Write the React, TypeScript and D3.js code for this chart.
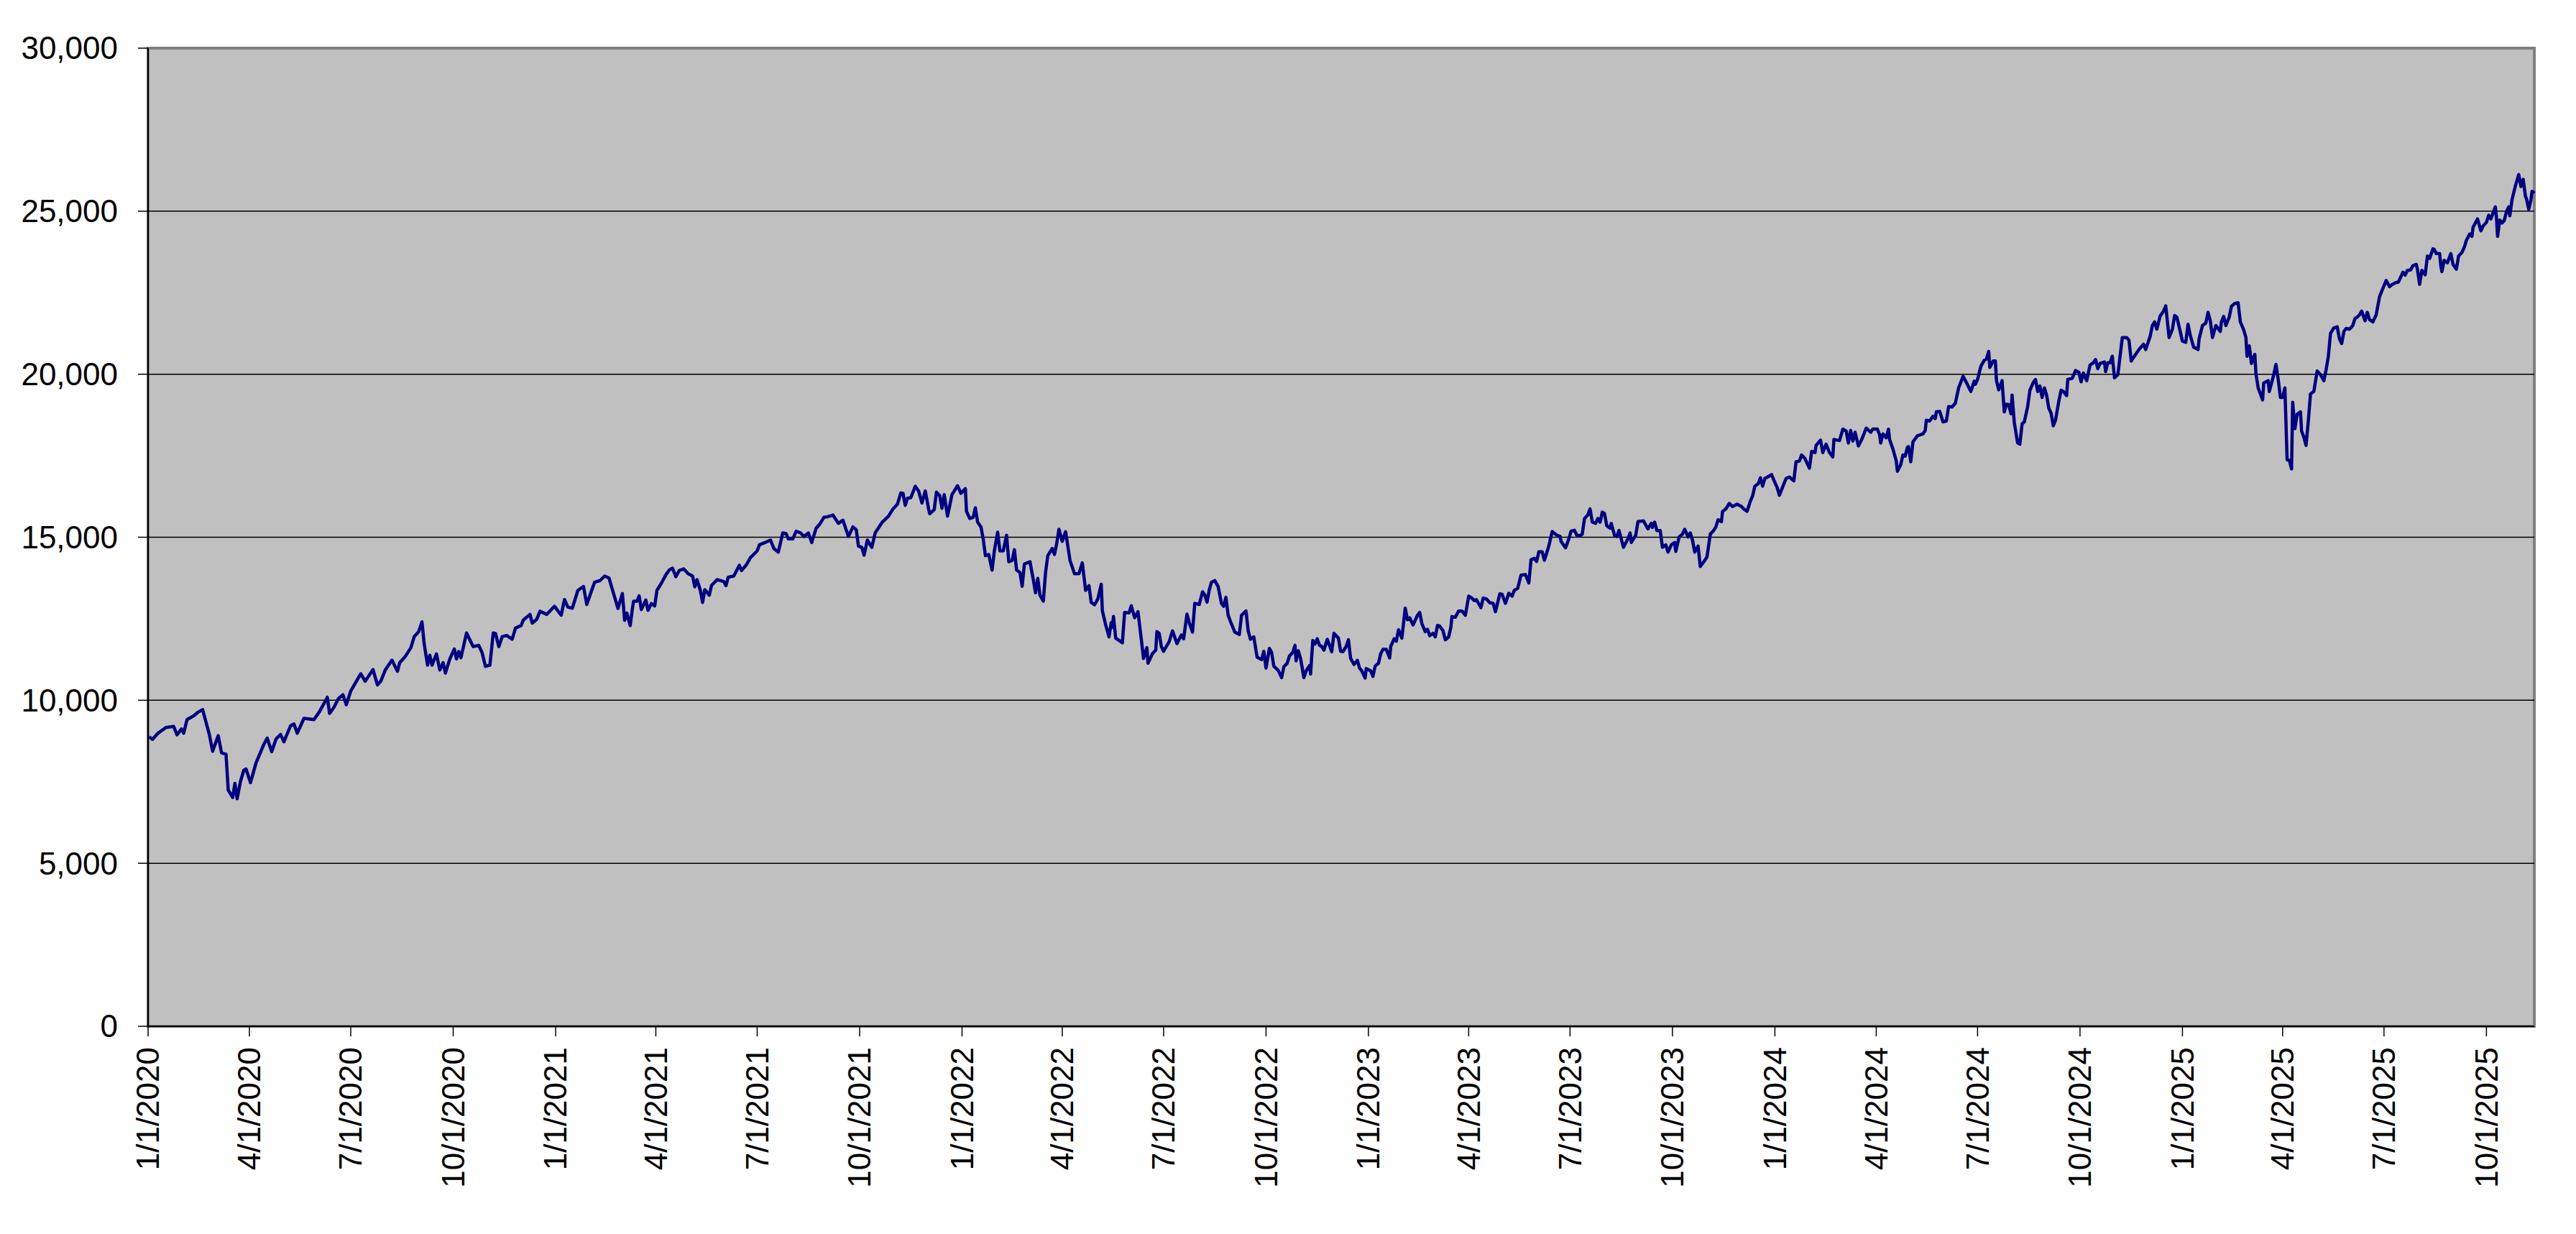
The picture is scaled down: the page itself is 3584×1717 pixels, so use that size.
import * as d3 from "d3";

// Series runs from the first trading days of 2020 to mid-November 2025
const startDate = new Date(2020, 0, 1);
const endDate = new Date(2025, 10, 13);

// days after 1/1/2020
const dayOffsets = [
  // 2020
  1, 4, 9, 16, 23, 26, 30, 32, 35, 41, 45, 49, 55, 58, 63, 66, 70, 72, 76, 78, 80, 83, 86, 88, 92, 97,
  104, 107, 111, 115, 119, 122, 128, 131, 134, 140, 149, 154, 161, 163, 167, 171, 175, 178, 182, 191,
  195, 202, 206, 209, 213, 219, 224, 226, 231, 236, 239, 243, 246, 248, 251, 253, 255, 259, 262, 265,
  267, 271, 275, 277, 279, 281, 286, 292, 297, 300, 303, 307, 310, 312, 315, 318, 322, 327, 330, 335,
  337, 343, 345, 349, 352, 358,
  // 2021
  365, 371, 374, 377, 381, 386, 391, 394, 399, 401, 406, 410, 414, 418, 422, 426, 428, 430, 433, 435,
  436, 439, 441, 443, 447, 449, 452, 455, 457, 461, 465, 468, 471, 474, 477, 481, 485, 489, 491, 493,
  496, 498, 500, 504, 506, 511, 517, 519, 521, 526, 531, 533, 537, 541, 547, 549, 554, 559, 562, 566,
  570, 573, 575, 579, 582, 586, 589, 593, 596, 600, 603, 607, 610, 615, 620, 624, 629, 633, 636, 638,
  641, 643, 646, 650, 653, 659, 665, 669, 673, 676, 678, 680, 682, 685, 689, 692, 695, 698, 701, 702,
  706, 708, 711, 713, 715, 718, 722, 727, 730,
  // 2022
  734, 735, 738, 741, 743, 745, 748, 750, 752, 755, 758, 760, 763, 765, 768, 771, 773, 776, 778, 780,
  783, 785, 787, 792, 795, 797, 799, 801, 804, 806, 808, 812, 814, 816, 818, 821, 824, 826, 828, 832,
  836, 839, 842, 845, 847, 850, 853, 856, 857, 860, 863, 865, 866, 867, 869, 872, 875, 877, 881, 883,
  886, 889, 892, 894, 897, 898, 902, 905, 906, 908, 910, 912, 917, 920, 924, 928, 930, 933, 935, 938,
  940, 944, 947, 949, 951, 953, 955, 958, 961, 964, 966, 968, 970, 972, 976, 980, 982, 986, 988, 990,
  993, 996, 1000, 1002, 1004, 1007, 1009, 1011, 1015, 1018, 1020, 1023, 1025, 1028, 1030, 1031, 1033,
  1035, 1038, 1040, 1043, 1044, 1046, 1048, 1050, 1052, 1054, 1056, 1059, 1061, 1063, 1065, 1069,
  1071, 1073, 1076, 1078, 1080, 1083, 1086, 1088, 1090, 1093, 1094,
  // 2023
  1098, 1100, 1102, 1105, 1107, 1109, 1112, 1115, 1116, 1119, 1121, 1123, 1126, 1129, 1131, 1133,
  1136, 1140, 1142, 1144, 1147, 1149, 1151, 1154, 1156, 1158, 1160, 1163, 1165, 1168, 1170, 1171,
  1174, 1177, 1180, 1183, 1186, 1188, 1191, 1193, 1197, 1199, 1202, 1205, 1208, 1210, 1214, 1216,
  1219, 1222, 1225, 1227, 1230, 1233, 1237, 1240, 1242, 1245, 1247, 1249, 1252, 1254, 1258, 1261,
  1265, 1268, 1269, 1273, 1276, 1278, 1281, 1283, 1286, 1288, 1290, 1293, 1295, 1297, 1300, 1302,
  1304, 1306, 1308, 1310, 1313, 1314, 1317, 1319, 1321, 1325, 1329, 1331, 1332, 1336, 1338, 1343,
  1347, 1350, 1351, 1353, 1355, 1358, 1360, 1363, 1365, 1368, 1371, 1372, 1375, 1378, 1380, 1383,
  1385, 1387, 1389, 1392, 1394, 1398, 1400, 1403, 1406, 1408, 1410, 1413, 1414, 1417, 1420, 1423,
  1427, 1431, 1433, 1436, 1439, 1441, 1443, 1446, 1448, 1450, 1452, 1458,
  // 2024
  1461, 1463, 1465, 1467, 1471, 1474, 1478, 1480, 1483, 1485, 1488, 1492, 1494, 1497, 1498, 1502,
  1504, 1507, 1510, 1513, 1514, 1519, 1522, 1525, 1527, 1529, 1531, 1533, 1536, 1539, 1543, 1547,
  1549, 1553, 1555, 1556, 1558, 1561, 1563, 1564, 1567, 1570, 1571, 1574, 1576, 1578, 1580, 1581,
  1583, 1585, 1589, 1594, 1596, 1597, 1600, 1603, 1605, 1606, 1609, 1612, 1615, 1617, 1620, 1623,
  1626, 1630, 1633, 1637, 1640, 1641, 1643, 1646, 1649, 1651, 1653, 1654, 1657, 1659, 1660, 1662,
  1665, 1667, 1669, 1671, 1673, 1674, 1676, 1679, 1681, 1683, 1685, 1688, 1690, 1693, 1695, 1697,
  1699, 1701, 1703, 1705, 1707, 1709, 1711, 1713, 1716, 1718, 1720, 1723, 1724, 1728, 1731, 1734,
  1736, 1738, 1741, 1744, 1747, 1749, 1751, 1753, 1757, 1758, 1760, 1762, 1764, 1766, 1769, 1773,
  1777, 1779, 1781, 1785, 1788, 1792, 1794, 1798, 1800, 1802, 1804, 1807, 1810, 1812, 1815, 1818,
  1820, 1822, 1824, 1827,
  // 2025
  1830, 1832, 1834, 1837, 1841, 1842, 1845, 1848, 1850, 1852, 1854, 1857, 1861, 1862, 1864, 1866,
  1869, 1871, 1874, 1877, 1879, 1882, 1884, 1885, 1887, 1889, 1892, 1893, 1895, 1897, 1899, 1900,
  1904, 1905, 1909, 1911, 1913, 1915, 1917, 1919, 1921, 1923, 1925, 1926, 1928, 1930, 1933, 1934,
  1936, 1938, 1940, 1942, 1945, 1948, 1951, 1954, 1956, 1958, 1960, 1963, 1966, 1968, 1970, 1972,
  1974, 1977, 1980, 1982, 1984, 1986, 1988, 1991, 1993, 1995, 1998, 2001, 2004, 2007, 2010, 2013,
  2015, 2018, 2021, 2025, 2027, 2029, 2032, 2034, 2037, 2038, 2040, 2042, 2045, 2047, 2049, 2052,
  2053, 2055, 2058, 2059, 2060, 2062, 2065, 2068, 2070, 2073, 2075, 2078, 2080, 2082, 2085, 2087,
  2088, 2092, 2095, 2097, 2100, 2102, 2104, 2106, 2108, 2109, 2110, 2112, 2114, 2116, 2118, 2120,
  2121, 2123, 2126, 2129, 2131, 2133, 2135, 2136, 2138, 2140, 2141, 2143
];

const values = [
  // 2020
  8877, 8801, 8991, 9165, 9196, 8938, 9120, 8991, 9408, 9522, 9636, 9712, 8953, 8437, 8915, 8384, 8346, 7246, 7018, 7450, 6980, 7511, 7853, 7891, 7474, 8080,
  8650, 8839, 8422, 8816, 8953, 8725, 9219, 9272, 8991, 9446, 9408, 9651, 10091, 9598, 9788, 10053, 10167, 9863, 10281, 10812,
  10584, 10941, 10470, 10584, 10926, 11229, 10888, 11153, 11343, 11608, 11950, 12102, 12405, 11722, 11077, 11381, 11077, 11419, 10926, 11153,
  10835, 11267, 11570, 11267, 11495, 11305, 12064, 11646, 11684, 11457, 11039, 11077, 12064, 12048, 11646, 11950, 11988, 11874, 12215, 12291,
  12458, 12633, 12367, 12481, 12731, 12633,
  // 2021
  12883, 12610, 13088, 12860, 12822, 13368, 13490, 12936, 13429, 13619, 13672, 13809, 13748, 13277, 12818, 13273, 12450, 12671, 12289, 12818,
  13038, 13038, 13200, 12781, 13075, 12759, 12965, 12891, 13369, 13589, 13846, 13993, 14052, 13788, 13979, 14030, 13883, 13810, 13479, 13699,
  13369, 13001, 13391, 13222, 13516, 13699, 13641, 13516, 13773, 13810, 14140, 13979, 14140, 14375, 14581, 14765, 14838, 14912, 14655, 14544,
  15132, 15110, 14949, 14949, 15184, 15132, 15022, 15132, 14838, 15279, 15389, 15610, 15625, 15683, 15426, 15522, 15022, 15316, 15228, 14728,
  14691, 14449, 14912, 14691, 15132, 15448, 15647, 15867, 16014, 16359, 16345, 15977, 16198, 16212, 16565, 16418, 16051, 16418, 15867, 15720,
  15845, 16381, 16271, 15889, 16308, 15647, 16308, 16580, 16345,
  // 2022
  16492, 15794, 15573, 15610, 15904, 15463, 15316, 14949, 14434, 14471, 13993, 14581, 15154, 14581, 14581, 15059, 14250, 14287, 14618, 13993,
  13920, 13494, 14177, 14250, 13699, 13295, 13736, 13222, 13038, 13920, 14434, 14655, 14471, 14802, 15243, 14875, 15169, 14728, 14287, 13883,
  13883, 14214, 13369, 13516, 13001, 12928, 13111, 13560, 12752, 12311, 11943, 12384, 12237, 12568, 11906, 11833, 11760, 12693, 12678, 12898,
  12531, 12715, 11870, 11282, 11613, 11135, 11429, 11539, 12105, 12053, 11649, 11502, 11796, 12127, 11737, 12002, 11884, 12641, 12384, 12090,
  12972, 12935, 13325, 13229, 13009, 13376, 13619, 13670, 13486, 12972, 12884, 13156, 12605, 12421, 12090, 12017, 12605, 12737, 12127, 11870,
  11943, 11319, 11245, 11502, 10988, 11591, 11466, 11047, 10914, 10694, 11025, 11135, 11355, 11466, 11686, 11208, 11517,
  11282, 10694, 10900, 11062, 10804, 11833, 11723, 11884, 11686, 11649, 11539, 11870, 11686, 11488, 12053, 11906,
  11502, 11488, 11649, 11855, 11282, 11098, 11223, 10988, 10900, 10679, 10973,
  // 2023
  10900, 10731, 11047, 11135, 11429, 11561, 11561, 11297, 11649, 11884, 11811, 12164, 11906, 12825, 12472, 12531,
  12311, 12605, 12693, 12347, 12105, 12178, 11980, 12053, 11943, 12296, 12274, 12127, 11855, 11943, 12237, 12568,
  12546, 12737, 12737, 12605, 13192, 13156, 13060, 13082, 12840, 13134, 13104, 12987, 12972, 12715, 13266, 13251,
  12972, 13281, 13192, 13376, 13428, 13839, 13854, 13597, 14309, 14353, 14258, 14552, 14552, 14295, 14735, 15176,
  15066, 15029, 14868, 14677, 14956, 15191, 15213, 15066, 15044, 15096, 15574, 15684, 15868, 15463, 15426, 15574,
  15463, 15772, 15721, 15353, 15279, 15426, 15059, 15022, 15206, 14691, 14949, 15132, 14838, 15059, 15478, 15500,
  15257, 15426, 15301, 15463, 15206, 15206, 14691, 14765, 14544, 14765, 14838, 14566, 15007, 15096, 15243, 15007,
  15132, 14912, 14544, 14728, 14103, 14287, 14397, 15096, 15206, 15316, 15536, 15478, 15794, 15867, 16036, 15941,
  16014, 15941, 15867, 15794, 16110, 16272, 16566, 16640, 16823, 16566, 16801, 16919,
  // 2024
  16676, 16529, 16287, 16456, 16801, 16846, 16728, 17316, 17338, 17522, 17412, 17118, 17632, 17596, 17816, 17978,
  17596, 17853, 17596, 17463, 18000, 17963, 18316, 18257, 17890, 18272, 17948, 18220, 17801, 18000, 18346, 18220,
  18316, 18316, 18147, 17890, 18169, 18051, 18316, 18000, 17706, 17338, 17022, 17228, 17522, 17485, 17757, 17779,
  17316, 17926, 18110, 18169, 18272, 18588, 18566, 18713, 18640, 18845, 18860, 18537, 18566, 19007, 18993, 19103,
  19581, 19934, 19743, 19471, 19787, 19691, 19838, 20243, 20427, 20464, 20699, 20206, 20405, 20405, 19801, 19522,
  19801, 18845, 19081, 19066, 18787, 19360, 18515, 17890, 17853, 18478, 18537, 19007, 19508, 19743, 19838, 19471,
  19640, 19287, 19581, 19360, 18956, 18809, 18419, 18588, 19176, 19508, 19470, 19346, 19838, 19875, 20110, 20059,
  19765, 20037, 19801, 20279, 20353, 20448, 20169, 20331, 20375, 20081, 20353, 20353, 20551, 19890, 19985, 21125,
  21125, 21037, 20404, 20610, 20757, 20919, 20757, 21162, 21493, 21603, 21382, 21787, 21934, 22096, 21125, 21382,
  21801, 21750, 21456, 21015,
  // 2025
  20978, 21529, 21199, 20831, 20757, 21088, 21493, 21566, 21897, 21640, 21125, 21493, 21309, 21603, 21772, 21493,
  21750, 22081, 22169, 22191, 21603, 21360, 21125, 20551, 20868, 20331, 20610, 20022, 19581, 19397, 19213, 19728,
  19801, 19470, 19985, 20301, 19838, 19287, 19287, 19581, 17375, 17360, 17096, 19140, 18331, 18772, 18846, 18257,
  18074, 17816, 18551, 19397, 19470, 20096, 19985, 19801, 20132, 20537, 21257, 21419, 21456, 21088, 20941, 21309,
  21404, 21382, 21493, 21713, 21750, 21823, 21934, 21640, 21897, 21676, 21603, 21823, 22375, 22632, 22875, 22684,
  22743, 22801, 22831, 23125, 23037, 23184, 23199, 23331, 23368, 23221, 22757, 23184, 23051, 23625, 23551, 23846,
  23831, 23699, 23699, 23331, 23147, 23493, 23419, 23699, 23368, 23221, 23625, 23735, 23882, 24103, 24301, 24228,
  24507, 24765, 24397, 24544, 24654, 24875, 24765, 24949, 25132, 24801, 24228, 24728, 24640, 24713, 24985, 25132,
  24860, 25353, 25772, 26125, 25757, 25978, 25463, 25375, 25059, 25353, 25610, 25551
];

const yTicks = [0, 5000, 10000, 15000, 20000, 25000, 30000];
const gridValues = [5000, 10000, 15000, 20000, 25000];

export default function App() {
  const width = 3584;
  const height = 1717;
  const left = 206;
  const right = 3526;
  const top = 67;
  const bottom = 1428;

  const x = d3.scaleTime().domain([startDate, endDate]).range([left, right]);
  const y = d3.scaleLinear().domain([0, 30000]).range([bottom, top]);

  const xTicks = d3.timeMonth.every(3)!.range(startDate, endDate);
  const fmtDate = d3.timeFormat("%-m/%-d/%Y");
  const fmtNum = d3.format(",");

  const points: [Date, number][] = dayOffsets.map((d, i) => [
    d3.timeDay.offset(startDate, d),
    values[i]
  ]);

  const line = d3
    .line<[Date, number]>()
    .x(d => x(d[0]))
    .y(d => y(d[1]));

  const font = "'Liberation Sans', Arial, sans-serif";

  return (
    <svg
      width={width}
      height={height}
      style={{ position: "absolute", left: 0, top: 0, background: "#fff" }}
      fontFamily={font}
    >
      {/* plot area */}
      <rect
        x={left}
        y={top}
        width={right - left}
        height={bottom - top}
        fill="#C0C0C0"
        stroke="#808080"
        strokeWidth={4}
      />
      {/* gridlines */}
      {gridValues.map(v => (
        <line key={v} x1={left} x2={right} y1={y(v)} y2={y(v)} stroke="#000" strokeWidth={1.5} />
      ))}
      {/* axes */}
      <line x1={left} x2={left} y1={top} y2={bottom} stroke="#000" strokeWidth={2} />
      <line x1={left} x2={right} y1={bottom} y2={bottom} stroke="#000" strokeWidth={2} />

      {/* y ticks + labels */}
      {yTicks.map(v => (
        <g key={v}>
          <line x1={left - 14} x2={left} y1={y(v)} y2={y(v)} stroke="#000" strokeWidth={1.5} />
          <text x={164} y={y(v)} dy="0.35em" textAnchor="end" fontSize={44} fill="#000">
            {fmtNum(v)}
          </text>
        </g>
      ))}

      {/* x ticks + labels */}
      {xTicks.map(d => (
        <g key={d.getTime()}>
          <line x1={x(d)} x2={x(d)} y1={bottom} y2={bottom + 14} stroke="#000" strokeWidth={1.5} />
          <text
            transform={`translate(${x(d)},1457) rotate(-90)`}
            dy="0.35em"
            textAnchor="end"
            fontSize={44}
            fill="#000"
          >
            {fmtDate(d)}
          </text>
        </g>
      ))}

      {/* series */}
      <path
        d={line(points) || undefined}
        fill="none"
        stroke="#000080"
        strokeWidth={4.5}
        strokeLinejoin="round"
      />
    </svg>
  );
}
